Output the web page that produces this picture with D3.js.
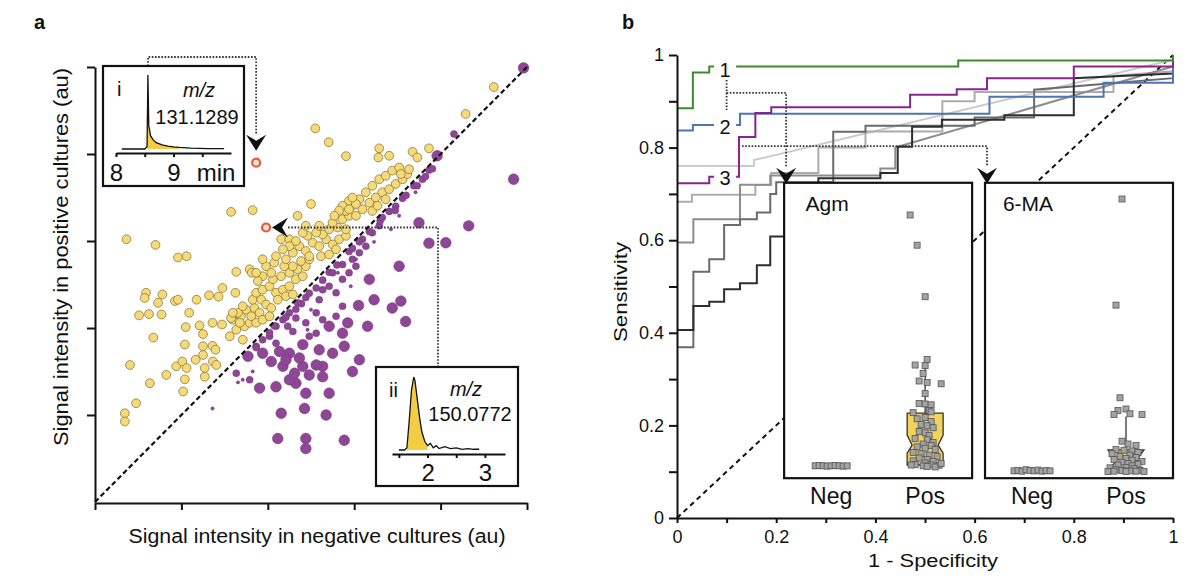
<!DOCTYPE html>
<meta charset="utf-8">
<script src="https://d3js.org/d3.v7.min.js"></script>
<style>
  body { margin: 0; background: #fff; }
  svg text { font-family: "Liberation Sans", Arial, sans-serif; fill: #111; }
</style>
<div id="chart"></div>
<script>
// ---------- panel a : feature intensities (au, 0-100) ----------
const higherInPos = [
  [92.3, 95.4], [85.8, 89.2], [51.0, 85.9], [54.1, 82.7], [58.1, 79.5], [65.8, 81.3], [65.6, 79.2],
  [68.1, 79.6], [73.5, 80.5], [74.6, 79.2], [77.3, 81.3], [36.5, 67.1], [31.5, 66.7], [50.0, 68.5],
  [46.9, 65.8], [43.1, 60.4], [45.0, 60.4], [7.3, 60.4], [14.0, 59.1], [19.2, 56.2], [21.2, 56.5],
  [11.8, 48.1], [11.5, 46.9], [15.6, 47.7], [14.6, 45.8], [18.5, 46.2], [19.2, 46.5], [10.2, 42.9],
  [12.5, 43.2], [15.4, 43.1], [21.8, 43.5], [23.5, 46.5], [26.4, 47.5], [28.6, 47.2], [29.5, 49.2],
  [32.5, 48.1], [32.7, 52.9], [35.8, 53.5], [36.3, 52.7], [13.5, 37.8], [21.0, 40.2], [24.2, 40.6],
  [25.0, 38.6], [27.2, 41.2], [29.4, 40.8], [20.8, 36.2], [25.0, 35.8], [27.2, 35.9], [27.9, 35.0],
  [8.1, 31.5], [18.8, 31.2], [20.2, 32.3], [21.2, 30.8], [23.3, 32.7], [25.0, 33.8], [27.3, 32.3],
  [28.1, 31.5], [25.4, 30.8], [16.5, 29.2], [20.8, 28.2], [25.4, 28.8], [12.7, 27.3], [20.4, 25.4],
  [9.5, 22.7], [6.9, 20.4], [6.9, 18.5], [31.2, 38.1], [32.7, 39.6], [34.2, 37.3], [31.9, 41.9],
  [33.8, 42.7], [34.6, 40.4], [35.8, 41.2],
  [31.5, 42.3], [33.1, 43.5], [35.0, 44.2], [36.9, 44.6], [38.1, 43.5], [36.2, 42.7], [33.5, 41.2],
  [37.3, 41.2], [38.8, 41.9], [31.9, 43.5], [34.2, 45.0], [36.5, 46.5], [38.5, 46.5], [39.6, 45.4],
  [40.8, 44.6], [40.4, 42.7], [37.3, 48.1], [38.8, 48.8], [40.4, 49.6], [41.9, 48.1], [43.5, 48.8],
  [45.0, 49.6], [46.5, 51.2], [41.2, 51.2], [43.1, 51.9], [45.0, 52.7], [46.9, 53.5], [38.8, 51.9],
  [40.8, 52.7], [37.7, 50.8], [44.2, 47.3], [45.8, 47.7], [42.3, 46.5], [48.1, 51.9], [48.8, 54.2],
  [45.8, 54.2], [47.7, 55.4], [49.6, 55.8], [43.8, 54.2], [41.5, 55.0], [39.6, 54.2], [37.3, 52.7],
  [38.8, 55.8], [44.2, 55.8], [41.9, 56.5], [47.3, 58.8], [48.8, 57.7], [50.4, 59.6], [51.9, 58.8],
  [53.5, 60.4], [55.0, 59.2], [56.5, 60.4], [58.1, 61.2], [52.7, 61.5], [54.2, 62.7], [56.2, 63.1],
  [58.1, 62.7], [51.2, 61.9], [49.2, 61.2], [46.5, 60.0], [48.1, 61.9], [45.8, 57.3], [49.6, 56.5],
  [52.3, 56.5], [54.2, 56.9], [55.8, 58.1], [45.0, 58.8], [43.5, 58.1], [48.8, 63.5], [51.9, 63.5],
  [55.0, 64.2], [57.3, 65.0], [58.8, 65.8], [58.1, 66.9], [59.6, 68.1], [61.2, 69.6], [61.9, 67.3],
  [63.5, 68.8], [65.0, 70.0], [66.5, 71.2], [68.1, 71.9], [69.6, 73.1], [71.2, 74.2], [72.3, 75.4],
  [64.2, 72.7], [65.8, 74.2], [67.3, 75.0], [68.8, 76.2], [70.4, 76.9], [72.7, 76.5], [62.7, 71.2],
  [60.4, 65.8], [64.2, 66.9], [58.8, 69.2], [60.4, 68.5], [57.3, 68.1], [58.8, 67.3], [59.6, 70.0],
  [65.4, 68.1], [67.3, 69.6], [70.8, 75.4], [56.5, 67.0], [55.4, 65.8]
];

// [negative, positive, abundance class]
const higherInNeg = [
  [99.2, 99.8, 3], [96.9, 74.2, 3], [86.5, 63.5, 3], [81.2, 59.6, 3], [77.3, 59.5, 3], [75.0, 64.2, 3],
  [83.1, 84.6, 2], [79.2, 79.6, 3], [77.3, 76.3, 2], [73.8, 72.7, 2], [70.4, 54.2, 3], [63.5, 51.2, 3],
  [71.9, 41.5, 3], [70.8, 46.2, 3], [68.8, 44.6, 3], [64.6, 46.5, 3], [61.0, 45.2, 3], [63.1, 40.4, 3],
  [58.5, 41.2, 3], [57.3, 38.8, 3], [55.0, 34.2, 3], [57.7, 35.8, 3], [61.2, 32.7, 3], [59.6, 30.0, 3],
  [52.7, 31.2, 3], [51.9, 35.0, 3], [48.1, 31.2, 3], [49.6, 29.2, 3], [46.5, 27.3, 3], [45.0, 28.1, 3],
  [48.8, 25.0, 3], [54.2, 25.0, 3], [41.9, 26.5, 3], [38.1, 26.2, 3], [43.1, 20.4, 3], [48.5, 21.5, 3],
  [53.5, 20.0, 3], [42.3, 14.6, 3], [48.8, 14.6, 3], [48.8, 12.3, 3], [57.7, 14.2, 3],
  [35.8, 28.1, 2], [32.7, 29.6, 2], [35.4, 33.5, 3], [37.3, 35.8, 2], [38.8, 34.2, 3], [42.7, 34.6, 3],
  [45.0, 34.2, 3], [51.2, 31.5, 3], [47.3, 33.1, 3], [46.2, 29.6, 3], [52.7, 28.8, 3], [43.5, 31.2, 3],
  [40.8, 32.3, 3], [44.2, 32.7, 3],
  [40.4, 38.1, 2], [41.9, 36.5, 2], [45.8, 39.2, 2], [48.8, 41.2, 2], [51.2, 43.5, 2], [46.5, 42.3, 2],
  [44.6, 40.4, 2], [48.1, 36.2, 3], [49.6, 38.1, 2], [51.2, 38.8, 2], [54.2, 40.4, 3], [52.7, 41.9, 2],
  [55.8, 42.7, 2], [57.3, 45.0, 2], [51.9, 46.5, 2], [55.8, 48.1, 2], [54.2, 49.6, 2], [57.3, 51.2, 2],
  [58.8, 52.7, 2], [59.6, 55.8, 2], [61.2, 57.3, 2], [62.7, 58.8, 2], [60.4, 54.2, 2], [57.3, 54.6, 2],
  [64.2, 61.9, 2], [65.8, 63.5, 2], [66.0, 64.6, 2], [66.5, 65.4, 2], [68.1, 66.8, 2], [69.6, 68.0, 2],
  [71.2, 69.8, 2], [69.5, 67.0, 2], [72.0, 70.5, 2], [74.6, 72.7, 2], [75.8, 74.2, 2], [76.5, 74.8, 2],
  [78.1, 76.6, 2], [63.5, 62.2, 2], [61.9, 60.4, 2], [58.8, 57.6, 2], [56.0, 54.5, 2], [54.2, 52.8, 2],
  [52.7, 51.0, 2], [51.2, 49.2, 2], [48.8, 47.0, 2], [47.8, 45.6, 2], [46.5, 44.3, 2], [45.0, 43.5, 2],
  [43.5, 41.9, 2], [41.9, 40.4, 2], [40.4, 38.9, 2], [38.8, 37.3, 2], [37.3, 35.5, 2], [41.5, 40.5, 2],
  [44.2, 42.5, 2], [46.9, 45.8, 2], [49.6, 48.0, 2], [52.7, 48.8, 2], [55.0, 52.7, 2], [59.6, 58.3, 2],
  [61.2, 59.8, 2],
  [64.6, 59.8, 1], [60.4, 55.8, 1], [50.0, 44.2, 1], [34.2, 28.1, 1], [33.1, 27.5, 1], [27.2, 21.5, 1],
  [68.5, 62.7, 1], [70.4, 65.8, 1], [56.2, 52.7, 1], [59.2, 49.6, 1], [49.2, 39.6, 1], [36.5, 30.0, 1],
  [74.2, 71.2, 1]
];

const highlighted = [[37.3, 78.0], [39.6, 63.1]];
const scatterTicks = [0, 20, 40, 60, 80, 100];

// extracted ion chromatograms (retention time in min, relative intensity)
const eicI_time = [8.1, 8.5, 8.54, 8.555, 8.57, 8.6, 8.65, 8.7, 8.8, 8.9, 9.0, 9.1, 9.3, 9.6, 9.88];
const eicI_int = [0, 0, 0.03, 1.0, 0.32, 0.18, 0.12, 0.085, 0.055, 0.04, 0.03, 0.022, 0.012, 0.006, 0.005];
const eicII_time = [1.5, 1.6, 1.64, 1.68, 1.72, 1.76, 1.78, 1.82, 1.86, 1.9, 1.95, 2.0, 2.05, 2.1, 2.15,
  2.2, 2.3, 2.4, 2.5, 2.6, 2.7, 2.8, 2.9];
const eicII_int = [0, 0, 0.03, 0.4, 0.82, 1.0, 0.95, 0.7, 0.45, 0.25, 0.12, 0.06, 0.09, 0.03, 0.06,
  0.02, 0.045, 0.02, 0.03, 0.01, 0.02, 0.01, 0.01];

// ---------- panel b : ROC curves [1 - specificity, sensitivity] ----------
const rocGreen = [[0, 0.885], [0.032, 0.885], [0.032, 0.962], [0.065, 0.962], [0.065, 0.975], [0.567, 0.975],
  [0.567, 0.988], [1, 0.988], [1, 1]];
const rocBlue = [[0, 0.837], [0.032, 0.837], [0.032, 0.849], [0.127, 0.849], [0.127, 0.873], [0.63, 0.873],
  [0.63, 0.91], [0.86, 0.91], [0.86, 0.94], [1, 0.94], [1, 1]];
const rocPurple = [[0, 0.723], [0.065, 0.723], [0.065, 0.737], [0.125, 0.737], [0.125, 0.823], [0.158, 0.823],
  [0.158, 0.875], [0.19, 0.875], [0.19, 0.887], [0.47, 0.887], [0.47, 0.914], [0.564, 0.914], [0.564, 0.926],
  [0.625, 0.926], [0.625, 0.95], [0.8, 0.95], [0.8, 0.975], [1, 0.975], [1, 1]];
const rocGrayA = [[0, 0.76], [0.155, 0.76], [0.155, 0.773], [1, 0.99], [1, 1]];
const rocGrayB = [[0, 0.683], [0.03, 0.683], [0.03, 0.698], [0.158, 0.698], [0.158, 0.719], [0.19, 0.719],
  [0.19, 0.745], [0.285, 0.745], [0.285, 0.8], [0.38, 0.8], [0.38, 0.835], [0.535, 0.835], [0.535, 0.9],
  [0.6, 0.9], [0.6, 0.92], [0.88, 0.92], [0.88, 0.955], [1, 0.965], [1, 1]];
const rocGrayC = [[0, 0.595], [0.033, 0.595], [0.033, 0.645], [0.127, 0.645], [0.127, 0.72], [0.188, 0.72],
  [0.188, 0.74], [0.41, 0.74], [0.41, 0.755], [0.44, 0.755], [0.44, 0.8], [1, 0.975], [1, 1]];
const rocGrayE = [[0, 0.369], [0.033, 0.369], [0.033, 0.532], [0.065, 0.532], [0.065, 0.559], [0.095, 0.559],
  [0.095, 0.633], [0.127, 0.633], [0.127, 0.645], [0.161, 0.645], [0.161, 0.66], [0.188, 0.66], [0.188, 0.7],
  [0.2, 0.7], [0.2, 0.725], [0.315, 0.725], [0.315, 0.834], [0.38, 0.834], [0.38, 0.847], [0.6, 0.847],
  [0.6, 0.865], [0.72, 0.865], [0.72, 0.925], [1, 0.95], [1, 1]];
const rocGrayD = [[0, 0.406], [0.033, 0.406], [0.033, 0.458], [0.065, 0.458], [0.065, 0.467], [0.095, 0.467],
  [0.095, 0.494], [0.127, 0.494], [0.127, 0.507], [0.161, 0.507], [0.161, 0.546], [0.188, 0.546], [0.188, 0.608],
  [0.25, 0.608], [0.25, 0.72], [0.285, 0.72], [0.285, 0.734], [0.41, 0.734], [0.41, 0.745], [0.445, 0.745],
  [0.445, 0.802], [0.474, 0.802], [0.474, 0.845], [0.534, 0.845], [0.534, 0.86], [0.66, 0.86], [0.66, 0.87],
  [0.8, 0.87], [0.8, 0.95], [1, 0.96], [1, 1]];
const rocTicks = [0, 0.1, 0.2, 0.3, 0.4, 0.5, 0.6, 0.7, 0.8, 0.9, 1];
const rocTickLabels = ["0", "", "0.2", "", "0.4", "", "0.6", "", "0.8", "", "1"];
const curveLabels = ["1", "2", "3"];
const curveLabelSens = [0.968, 0.845, 0.734];

// box plots in the insets (signal, au)
const boxNames = ["Agm", "6-MA"];
const boxQ1 = [2.5, 0.3];
const boxMedian = [9.6, 3.9];
const boxQ3 = [21.0, 7.9];
const boxNotchLo = [6.7, 0.3];
const boxNotchHi = [13.2, 7.9];
const boxWhiskerLo = [1.8, 0.2];
const boxWhiskerHi = [40.2, 19.8];
// [jitter, signal]
const agmNeg = [[-0.8, 2.2], [-0.6, 2.3], [-0.4, 2.2], [-0.2, 2.1], [0, 2.2], [0.2, 2.3], [0.4, 2.2], [0.6, 2.1], [0.8, 2.2]];
const agmPos = [[-0.75, 91.8], [-0.4, 81], [0, 62.6], [0.1, 40.2], [-0.5, 38.2], [0, 38], [-0.1, 35.2],
  [-0.3, 32.5], [0.1, 32], [0.8, 31.5], [0, 28], [-0.3, 24.5], [0, 24.3], [0.3, 24], [0.2, 22], [0.3, 21.5],
  [-0.6, 21.2], [-0.4, 19], [0, 19.5], [0.3, 18], [-0.2, 17], [0.1, 16.5], [0.4, 15.8], [-0.3, 14.5], [0, 14],
  [0.2, 13], [-0.5, 12], [0.1, 11.5], [0.4, 10.5], [-0.1, 10], [0.3, 9.5], [-0.4, 9], [0, 8.5], [0.5, 8],
  [-0.6, 7], [-0.2, 6.5], [0.2, 6], [0.6, 5.5], [-0.3, 5], [0.1, 4.5], [-0.6, 4], [0.4, 3.8], [0, 3.2],
  [-0.5, 2.6], [0.3, 2.5], [0.7, 2.4], [-0.1, 2.2], [0.1, 2], [0.5, 1.8], [-0.7, 2.5], [0.8, 3]];
const maNeg = [[-0.9, 0.4], [-0.7, 0.6], [-0.5, 0.3], [-0.3, 0.8], [-0.1, 0.5], [0.1, 0.4], [0.3, 0.7], [0.5, 0.3], [0.7, 0.5], [0.9, 0.4]];
const maPos = [[-0.2, 97.5], [-0.5, 59.6], [-0.3, 26.5], [-0.4, 22], [0, 22.5], [-0.6, 20.5], [0.2, 20.8],
  [0.8, 20.5], [-0.2, 11], [0.1, 10], [0.5, 9.5], [-0.5, 8], [-0.1, 7.8], [0.3, 7.5], [0.6, 7], [-0.7, 6.5],
  [0.2, 6], [-0.3, 5.5], [0.5, 5.2], [0, 4.8], [-0.6, 4.5], [0.3, 4.2], [0.8, 3.8], [-0.2, 3.5], [0.1, 3],
  [0.6, 2.8], [-0.4, 2.5], [0.3, 2.2], [-0.8, 1.5], [0, 1.6], [0.4, 1.2], [-0.5, 0.8], [0.7, 0.6], [-0.2, 0.5],
  [0.2, 0.4], [-0.9, 0.2], [0.9, 0.2], [0.5, 0.3], [-0.6, 0.3], [0, 0.2]];

// ---------------------------------------------------------------
const svg = d3.select("#chart").append("svg").attr("width", 1200).attr("height", 578);

function arrowHead(g, x, y, angle) {
  g.append("path").attr("d", "M0,0L-10,-16L0,-10L10,-16Z")
    .attr("transform", `translate(${x},${y}) rotate(${angle})`)
    .attr("fill", "#111");
}
function dotted(g, d) {
  g.append("path").attr("d", d).attr("fill", "none")
    .attr("stroke", "#333").attr("stroke-width", 1.8).attr("stroke-dasharray", "1.6,1.6");
}

// ================= panel a =================
const xA = d3.scaleLinear().domain([0, 100]).range([95, 527]);
const yA = d3.scaleLinear().domain([0, 100]).range([502, 67]);
const rNeg = d3.scaleLinear().domain([1, 3]).range([1.7, 5.4]);
const gA = svg.append("g");

gA.append("text").text("a").attr("x", 34).attr("y", 29).attr("font-size", 20).attr("font-weight", "bold");

gA.append("g").selectAll("circle").data(higherInPos).join("circle")
  .attr("cx", d => xA(d[0])).attr("cy", d => yA(d[1])).attr("r", 4.4)
  .attr("fill", "#f6da78").attr("stroke", "#7d6c2c").attr("stroke-width", 0.7);

gA.append("g").selectAll("circle").data(higherInNeg).join("circle")
  .attr("cx", d => xA(d[0])).attr("cy", d => yA(d[1])).attr("r", d => rNeg(d[2]))
  .attr("fill", "#8e4795").attr("stroke", "#6d2d74").attr("stroke-width", 0.4);

gA.append("line")
  .attr("x1", xA(0)).attr("y1", yA(0)).attr("x2", xA(100)).attr("y2", yA(100))
  .attr("stroke", "#111").attr("stroke-width", 2.2).attr("stroke-dasharray", "5,3");

gA.append("g").selectAll("circle").data(highlighted).join("circle")
  .attr("cx", d => xA(d[0])).attr("cy", d => yA(d[1])).attr("r", 4)
  .attr("fill", "#fde4cf").attr("stroke", "#e8563e").attr("stroke-width", 2.2);

gA.append("g").attr("transform", "translate(0,503)")
  .call(d3.axisBottom(xA).tickValues(scatterTicks).tickFormat("").tickSize(7).tickSizeOuter(0))
  .call(g => g.selectAll("path,line").attr("stroke", "#111").attr("stroke-width", 2));
gA.append("g").attr("transform", "translate(95,0)")
  .call(d3.axisLeft(yA).tickValues(scatterTicks.slice(1)).tickFormat("").tickSize(8).tickSizeOuter(0))
  .call(g => g.selectAll("path,line").attr("stroke", "#111").attr("stroke-width", 2));

gA.append("text").text("Signal intensity in negative cultures (au)")
  .attr("x", 317).attr("y", 543).attr("text-anchor", "middle").attr("font-size", 20)
  .attr("textLength", 377).attr("lengthAdjust", "spacingAndGlyphs");
gA.append("text").text("Signal intensity in positive cultures (au)")
  .attr("transform", "translate(68,257) rotate(-90)").attr("text-anchor", "middle").attr("font-size", 20)
  .attr("textLength", 378).attr("lengthAdjust", "spacingAndGlyphs");

// connectors to the highlighted features
const h1 = [xA(highlighted[0][0]), yA(highlighted[0][1])];
const h2 = [xA(highlighted[1][0]), yA(highlighted[1][1])];
dotted(gA, `M148,66V57H${h1[0]}V${h1[1] - 28}`);
arrowHead(gA, h1[0], h1[1] - 12, 0);
dotted(gA, `M${h2[0] + 22},${h2[1]}H438V367`);
arrowHead(gA, h2[0] + 6, h2[1], 90);

function chromInset(box, xs, ys, times, ints, shade, ticks, tickText, unit, tag, tagX, mzX, axisY, pad) {
  const g = svg.append("g");
  g.append("rect").attr("x", box[0]).attr("y", box[1])
    .attr("width", box[2] - box[0]).attr("height", box[3] - box[1])
    .attr("fill", "#fff").attr("stroke", "#111").attr("stroke-width", 2.2);
  const pts = times.map((t, i) => [t, ints[i]]);
  g.append("path").datum(pts.filter(d => d[0] >= shade[0] && d[0] <= shade[1]))
    .attr("d", d3.area().x(d => xs(d[0])).y0(ys(0)).y1(d => ys(d[1])))
    .attr("fill", "#f2cd45");
  g.append("path").datum(pts)
    .attr("d", d3.line().x(d => xs(d[0])).y(d => ys(d[1])))
    .attr("fill", "none").attr("stroke", "#111").attr("stroke-width", 1.3);
  g.append("g").attr("transform", `translate(0,${axisY})`)
    .call(d3.axisBottom(xs).tickValues(ticks).tickFormat((d, i) => tickText[i]).tickSize(4).tickSizeOuter(0).tickPadding(pad))
    .call(a => a.selectAll("path,line").attr("stroke", "#111").attr("stroke-width", 2))
    .call(a => a.selectAll("text").attr("font-size", 24));
  if (unit) g.append("text").text(unit).attr("x", unit.x).attr("y", unit.y);
  g.append("text").text(tag).attr("x", tagX).attr("y", box[1] + 30).attr("font-size", 20);
  return g;
}

const eicIx = d3.scaleLinear().domain([8, 10]).range([116, 231]);
const eicIy = d3.scaleLinear().domain([0, 1]).range([149, 75]);
const insI = chromInset([103, 66, 244, 186], eicIx, eicIy, eicI_time, eicI_int, [8.54, 9.1],
  [8, 8.5, 9, 9.5], ["8", "", "9", ""], null, "i", 117, 0, 153, 7);
insI.append("text").text("min").attr("x", eicIx(9.74)).attr("y", 181).attr("text-anchor", "middle").attr("font-size", 24);
insI.append("text").text("m/z").attr("x", 199).attr("y", 97).attr("text-anchor", "middle")
  .attr("font-size", 20).attr("font-style", "italic");
insI.append("text").text("131.1289").attr("x", 197).attr("y", 124).attr("text-anchor", "middle").attr("font-size", 20);

const eicIIx = d3.scaleLinear().domain([1.38, 3.35]).range([392, 505]);
const eicIIy = d3.scaleLinear().domain([0, 1]).range([450, 377]);
const insII = chromInset([376, 367, 518, 486], eicIIx, eicIIy, eicII_time, eicII_int, [1.64, 2.0],
  [1.5, 2, 2.5, 3], ["", "2", "", "3"], null, "ii", 389, 0, 454, 6);
insII.append("text").text("m/z").attr("x", 466).attr("y", 396).attr("text-anchor", "middle")
  .attr("font-size", 20).attr("font-style", "italic");
insII.append("text").text("150.0772").attr("x", 470).attr("y", 421).attr("text-anchor", "middle").attr("font-size", 20);

// ================= panel b =================
const xB = d3.scaleLinear().domain([0, 1]).range([677, 1173]);
const yB = d3.scaleLinear().domain([0, 1]).range([518, 55]);
const gB = svg.append("g");
gB.append("text").text("b").attr("x", 622).attr("y", 29).attr("font-size", 20).attr("font-weight", "bold");

gB.append("line").attr("x1", xB(0)).attr("y1", yB(0)).attr("x2", xB(1)).attr("y2", yB(1))
  .attr("stroke", "#111").attr("stroke-width", 2).attr("stroke-dasharray", "5,4");

const rocLine = d3.line().x(d => xB(d[0])).y(d => yB(d[1]));
const rocSeries = [rocGrayA, rocGrayB, rocGrayC, rocGrayE, rocGrayD, rocBlue, rocPurple, rocGreen];
const rocColors = ["#cbcbcb", "#acacac", "#8d8d8d", "#6a6a6a", "#2e2e2e", "#4f74b8", "#8c2290", "#3b8a2c"];
gB.append("g").selectAll("path").data(rocSeries).join("path")
  .attr("d", rocLine).attr("fill", "none")
  .attr("stroke", (d, i) => rocColors[i]).attr("stroke-width", 2);

const lab = gB.append("g").selectAll("g").data(curveLabels).join("g")
  .attr("transform", (d, i) => `translate(${xB(0.097)},${yB(curveLabelSens[i])})`);
lab.append("rect").attr("x", -11).attr("y", -10).attr("width", 22).attr("height", 20).attr("fill", "#fff");
lab.append("text").text(d => d).attr("text-anchor", "middle").attr("dy", "0.36em").attr("font-size", 20);

// insets with box plots
const insetTop = yB(0.724), insetBottom = yB(0.086);
const insetLeft = [xB(0.216), xB(0.621)], insetRight = [xB(0.595), xB(1)];
const yI = d3.scaleLinear().domain([0, 100]).range([472, 192]);
const insetPts = [[agmNeg, agmPos], [maNeg, maPos]];
const notchInset = [5, 8];

dotted(gB, `M${xB(0.1)},${yB(0.946)}V${yB(0.881)}`);
dotted(gB, `M${xB(0.1)},${yB(0.918)}H${insetLeft[0] + 2}V${insetTop - 16}`);
dotted(gB, `M${xB(0.131)},${yB(0.803)}H${insetLeft[1] + 2}V${insetTop - 16}`);

boxNames.forEach((name, k) => {
  const g = gB.append("g");
  const xs = d3.scalePoint().domain(["Neg", "Pos"]).range([insetLeft[k], insetRight[k]]).padding(0.5);
  g.append("rect").attr("x", insetLeft[k]).attr("y", insetTop)
    .attr("width", insetRight[k] - insetLeft[k]).attr("height", insetBottom - insetTop)
    .attr("fill", "#fff").attr("stroke", "#111").attr("stroke-width", 2.2);
  const cx = xs("Pos"), hw = 18, ni = notchInset[k];
  g.append("line").attr("x1", cx).attr("x2", cx).attr("y1", yI(boxQ3[k])).attr("y2", yI(boxWhiskerHi[k]))
    .attr("stroke", "#222").attr("stroke-width", 1.2);
  g.append("line").attr("x1", cx).attr("x2", cx).attr("y1", yI(boxQ1[k])).attr("y2", yI(boxWhiskerLo[k]))
    .attr("stroke", "#222").attr("stroke-width", 1.2);
  const poly = [
    [cx - hw, yI(boxQ3[k])], [cx - hw, yI(boxNotchHi[k])], [cx - hw + ni, yI(boxMedian[k])],
    [cx - hw, yI(boxNotchLo[k])], [cx - hw, yI(boxQ1[k])], [cx + hw, yI(boxQ1[k])],
    [cx + hw, yI(boxNotchLo[k])], [cx + hw - ni, yI(boxMedian[k])], [cx + hw, yI(boxNotchHi[k])],
    [cx + hw, yI(boxQ3[k])]
  ];
  g.append("path").attr("d", "M" + poly.join("L") + "Z")
    .attr("fill", "#f4d35a").attr("stroke", "#333").attr("stroke-width", 1.3);
  ["Neg", "Pos"].forEach((grp, j) => {
    g.append("g").selectAll("rect").data(insetPts[k][j]).join("rect")
      .attr("x", d => xs(grp) + d[0] * 20 - 3).attr("y", d => yI(d[1]) - 3)
      .attr("width", 6).attr("height", 6)
      .attr("fill", "#a3a3a3").attr("stroke", "#555").attr("stroke-width", 0.8);
    g.append("text").text(grp).attr("x", xs(grp)).attr("y", 504)
      .attr("text-anchor", "middle").attr("font-size", 23);
  });
  g.append("text").text(name).attr("x", insetLeft[k] + 43).attr("y", 211)
    .attr("text-anchor", "middle").attr("font-size", 21);
  arrowHead(gB, insetLeft[k] + 2, insetTop + 1, 0);
});

gB.append("g").attr("transform", `translate(0,${yB(0)})`)
  .call(d3.axisBottom(xB).tickValues(rocTicks).tickFormat((d, i) => rocTickLabels[i]).tickSize(5).tickSizeOuter(0).tickPadding(7))
  .call(g => g.selectAll("path,line").attr("stroke", "#111").attr("stroke-width", 2))
  .call(g => g.selectAll("text").attr("font-size", 18));
gB.append("g").attr("transform", `translate(${xB(0)},0)`)
  .call(d3.axisLeft(yB).tickValues(rocTicks).tickFormat((d, i) => rocTickLabels[i]).tickSize(8).tickSizeOuter(0).tickPadding(5))
  .call(g => g.selectAll("path,line").attr("stroke", "#111").attr("stroke-width", 2))
  .call(g => g.selectAll("text").attr("font-size", 18));

gB.append("text").text("1 - Specificity").attr("x", 933).attr("y", 567)
  .attr("text-anchor", "middle").attr("font-size", 18)
  .attr("textLength", 130).attr("lengthAdjust", "spacingAndGlyphs");
gB.append("text").text("Sensitivity").attr("transform", "translate(627,292) rotate(-90)")
  .attr("text-anchor", "middle").attr("font-size", 18)
  .attr("textLength", 100).attr("lengthAdjust", "spacingAndGlyphs");
</script>
